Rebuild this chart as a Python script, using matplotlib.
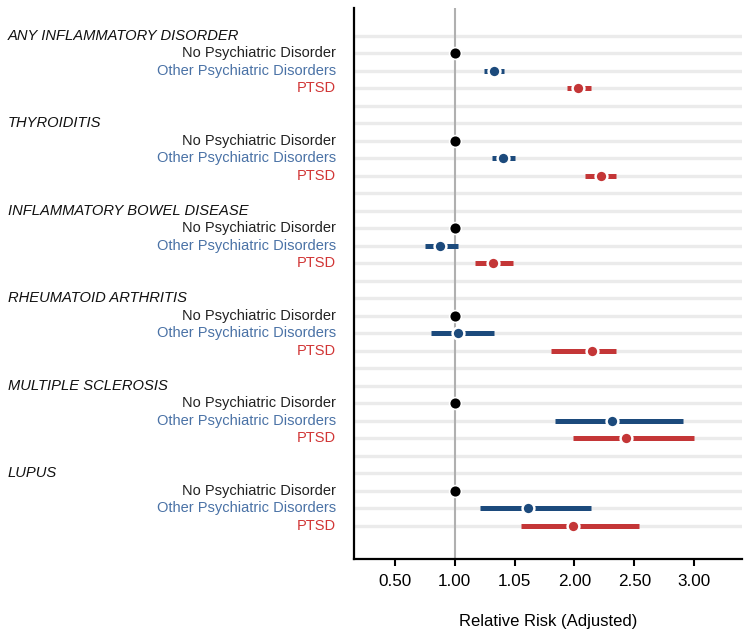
import numpy as np
import matplotlib
matplotlib.use("Agg")
import matplotlib.pyplot as plt
import matplotlib.transforms as mtransforms

plt.rcParams['font.family'] = ['Liberation Sans', 'DejaVu Sans']

# data
diseases = ["ANY INFLAMMATORY DISORDER", "THYROIDITIS", "INFLAMMATORY BOWEL DISEASE",
            "RHEUMATOID ARTHRITIS", "MULTIPLE SCLEROSIS", "LUPUS"]
groups = ["No Psychiatric Disorder", "Other Psychiatric Disorders", "PTSD"]

other_est = [1.33, 1.40, 0.88, 1.03, 2.31, 1.61]
other_lo = [1.24, 1.31, 0.75, 0.80, 1.84, 1.21]
other_hi = [1.41, 1.50, 1.03, 1.33, 2.91, 2.14]

ptsd_est = [2.03, 2.22, 1.32, 2.15, 2.43, 1.99]
ptsd_lo = [1.94, 2.09, 1.17, 1.80, 1.99, 1.55]
ptsd_hi = [2.14, 2.35, 1.49, 2.35, 3.00, 2.54]

ref_est = [1.0] * 6

tick_pos = [0.5, 1.0, 1.5, 2.0, 2.5, 3.0]
tick_labels = ["0.50", "1.00", "1.05", "2.00", "2.50", "3.00"]

label_colors = ["#222222", "#4a72a6", "#d13535"]
mark_colors = ["#000000", "#1c4a7c", "#c43637"]

fig = plt.figure(figsize=(7.51, 6.4), dpi=100)
ax = fig.add_axes([0.4714, 0.1266, 0.988 - 0.4714, 0.9875 - 0.1266])

n_rows = len(diseases) * 5 - 1
for r in range(n_rows):
    ax.axhline(r, color="#ebebeb", lw=2.4, zorder=0)
ax.axvline(1.0, color="#b0b0b0", lw=1.5, zorder=1)

trans = mtransforms.blended_transform_factory(ax.transAxes, ax.transData)

for i, d in enumerate(diseases):
    base = i * 5
    ax.text(-0.892, base, d, transform=trans, ha="left", va="center",
            fontsize=10.6, style="italic", color="#111111")
    for j, g in enumerate(groups):
        ax.text(-0.046, base + 1 + j, g, transform=trans, ha="right", va="center",
                fontsize=10.5, color=label_colors[j])

    # reference group
    ax.plot(ref_est[i], base + 1, "o", color=mark_colors[0], ms=8.5,
            mec="white", mew=1.2, zorder=4)
    # other psychiatric disorders
    y = base + 2
    ax.plot([other_lo[i], other_hi[i]], [y, y], color=mark_colors[1], lw=3.6,
            solid_capstyle="butt", zorder=3)
    ax.plot(other_est[i], y, "o", color=mark_colors[1], ms=8.5,
            mec="white", mew=1.8, zorder=4)
    # PTSD
    y = base + 3
    ax.plot([ptsd_lo[i], ptsd_hi[i]], [y, y], color=mark_colors[2], lw=3.6,
            solid_capstyle="butt", zorder=3)
    ax.plot(ptsd_est[i], y, "o", color=mark_colors[2], ms=8.5,
            mec="white", mew=1.8, zorder=4)

ax.set_xlim(0.158, 3.4)
ax.set_ylim(29.9, -1.6)
ax.set_yticks([])
ax.set_xticks(tick_pos)
ax.set_xticklabels(tick_labels, fontsize=12.3)
ax.tick_params(axis="x", direction="out", length=5, width=1.5, pad=6, color="black")
ax.set_xlabel("Relative Risk (Adjusted)", fontsize=12, labelpad=18)

ax.spines["top"].set_visible(False)
ax.spines["right"].set_visible(False)
ax.spines["left"].set_linewidth(1.6)
ax.spines["bottom"].set_linewidth(1.6)

plt.savefig("out.png", dpi=100)
